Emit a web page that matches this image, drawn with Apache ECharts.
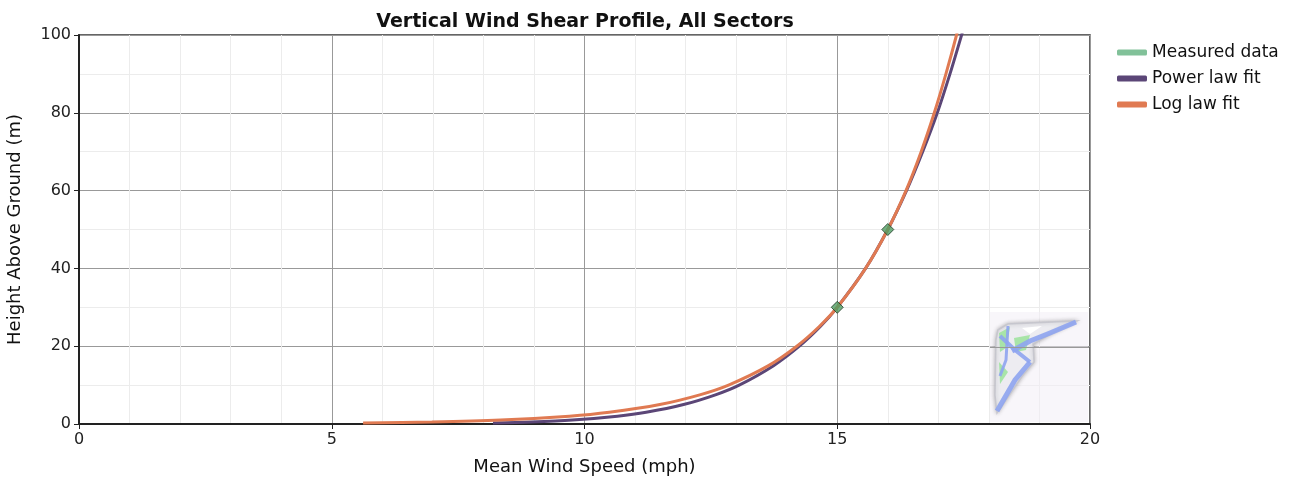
<!DOCTYPE html>
<html><head><meta charset="utf-8">
<script src="https://cdn.jsdelivr.net/npm/echarts@6/dist/echarts.min.js"></script>
<style>html,body{margin:0;padding:0;background:#fff}#c{width:1301px;height:479px}</style>
</head><body><div id="c"></div>
<script>
// Heights (m) at which the fit curves were read
const heights = [0.25, 0.5, 1, 2, 3, 5, 7.5, 10, 15, 20, 25, 30, 40, 50, 60, 70, 80, 90, 100, 105];
// Wind speeds (mph)
const powerLawSpeed = [8.19, 8.94, 9.76, 10.65, 11.22, 11.96, 12.59, 13.06, 13.74, 14.25, 14.66, 15.0, 15.56, 16.0, 16.37, 16.69, 16.98, 17.23, 17.46, 17.57];
const logLawSpeed   = [5.62, 6.98, 8.34, 9.70, 10.49, 11.49, 12.28, 12.85, 13.64, 14.20, 14.64, 15.0, 15.56, 16.0, 16.36, 16.66, 16.92, 17.15, 17.36, 17.45];
// Measured data points
const measuredSpeed = [15.0, 16.0];
const measuredHeight = [30, 50];

const seriesNames = ['Measured data', 'Power law fit', 'Log law fit'];
const xTicks = [0, 5, 10, 15, 20];
const yTicks = [0, 20, 40, 60, 80, 100];

const zip = (xs, ys) => xs.map((x, i) => [x, ys[i]]);
const font = 'DejaVu Sans';

const chart = echarts.init(document.getElementById('c'), null, {renderer: 'canvas'});
chart.setOption({
  animation: false,
  title: {
    text: 'Vertical Wind Shear Profile, All Sectors',
    left: 580, top: 8, textAlign: 'center',
    textStyle: {fontFamily: font, fontSize: 19, fontWeight: 'bold', color: '#111'}
  },
  legend: {
    orient: 'vertical', left: 1112, top: 39, itemGap: 9,
    itemWidth: 30, itemHeight: 6, icon: 'roundRect',
    textStyle: {fontFamily: font, fontSize: 17, color: '#111'},
    data: seriesNames.map(n => ({name: n, icon: 'roundRect', itemStyle: n === seriesNames[0] ? {color: '#62b27f', borderWidth: 0} : {}}))
  },
  grid: {left: 79, right: 211, top: 35, bottom: 55, outerBoundsMode: 'none', containLabel: false,
    show: true, borderColor: '#333', borderWidth: 1.5, backgroundColor: '#fff'},
  xAxis: {
    type: 'value', min: xTicks[0], max: xTicks[xTicks.length - 1], interval: 5,
    name: 'Mean Wind Speed (mph)', nameLocation: 'middle', nameGap: 34,
    nameTextStyle: {fontFamily: font, fontSize: 18, color: '#111'},
    axisLine: {show: true, lineStyle: {color: '#222', width: 2}},
    axisTick: {show: true, length: 5, lineStyle: {color: '#222'}},
    axisLabel: {fontFamily: font, fontSize: 16, color: '#222', margin: 8},
    splitLine: {show: true, lineStyle: {color: '#999', width: 1}},
    minorTick: {show: false, splitNumber: 5},
    minorSplitLine: {show: true, lineStyle: {color: '#ececec', width: 1}}
  },
  yAxis: {
    type: 'value', min: yTicks[0], max: yTicks[yTicks.length - 1], interval: 20,
    name: 'Height Above Ground (m)', nameLocation: 'middle', nameGap: 55,
    nameTextStyle: {fontFamily: font, fontSize: 18, color: '#111'},
    axisLine: {show: true, lineStyle: {color: '#222', width: 2}},
    axisTick: {show: true, length: 5, lineStyle: {color: '#222'}},
    axisLabel: {fontFamily: font, fontSize: 16, color: '#222', margin: 8},
    splitLine: {show: true, lineStyle: {color: '#999', width: 1}},
    minorTick: {show: false, splitNumber: 2},
    minorSplitLine: {show: true, lineStyle: {color: '#ececec', width: 1}}
  },
  graphic: [
    {type: 'rect', shape: {x: 990, y: 312, width: 98, height: 110}, style: {fill: 'rgba(242,238,246,0.5)'}, z: 1, silent: true},
    {type: 'polygon', z: 2, silent: true, shape: {points: [[998,330],[1008,324],[1077,321],[1052,333],[1033,344],[1034,362],[1022,376],[997,413],[995,395],[996,340]]},
      style: {fill: '#f6f6fa', stroke: '#c4c4cc', lineWidth: 1.5, shadowBlur: 4, shadowColor: 'rgba(0,0,0,0.3)', opacity: 0.85}},
    {type: 'polygon', z: 3, silent: true, shape: {points: [[999,333],[1010,327],[1006,348],[1000,352]]}, style: {fill: '#9be39b', opacity: 0.85}},
    {type: 'polygon', z: 3, silent: true, shape: {points: [[1014,338],[1030,335],[1026,350],[1016,352]]}, style: {fill: '#9be39b', opacity: 0.85}},
    {type: 'polygon', z: 3, silent: true, shape: {points: [[999,362],[1008,372],[1000,384]]}, style: {fill: '#9be39b', opacity: 0.85}},
    {type: 'polygon', z: 3, silent: true, shape: {points: [[1022,328],[1042,326],[1030,334]]}, style: {fill: '#ffffff'}},
    {type: 'polyline', z: 4, silent: true, shape: {points: [[1076,322],[1050,333],[1030,341],[1012,351]]}, style: {stroke: '#8ea4ef', lineWidth: 5, fill: null, opacity: 0.9}},
    {type: 'polyline', z: 4, silent: true, shape: {points: [[1000,336],[1015,350],[1030,362]]}, style: {stroke: '#8ea4ef', lineWidth: 4, fill: null, opacity: 0.9}},
    {type: 'polyline', z: 4, silent: true, shape: {points: [[1030,362],[1015,380],[997,411]]}, style: {stroke: '#8ea4ef', lineWidth: 5, fill: null, opacity: 0.9}},
    {type: 'polyline', z: 4, silent: true, shape: {points: [[1008,326],[1006,360],[1000,376]]}, style: {stroke: '#8ea4ef', lineWidth: 3, fill: null, opacity: 0.9}},
    {type: 'line', z: 5, silent: true, shape: {x1: 990, y1: 347.5, x2: 1089, y2: 347.5}, style: {stroke: '#999', lineWidth: 1}}
  ],
  series: [
    {
      name: seriesNames[1], type: 'line', data: zip(powerLawSpeed, heights),
      showSymbol: false, smooth: 0.3, clip: true, z: 3,
      color: '#5b4677', lineStyle: {color: '#5b4677', width: 3}
    },
    {
      name: seriesNames[2], type: 'line', data: zip(logLawSpeed, heights),
      showSymbol: false, smooth: 0.3, clip: true, z: 4,
      color: '#e07a52', lineStyle: {color: '#e07a52', width: 3}
    },
    {
      name: seriesNames[0], type: 'scatter', data: zip(measuredSpeed, measuredHeight),
      symbol: 'diamond', symbolSize: 12, z: 5,
      color: '#62b27f',
      itemStyle: {color: '#4f9d63', borderColor: '#1e3a24', borderWidth: 1}
    }
  ]
});
</script>
</body></html>
